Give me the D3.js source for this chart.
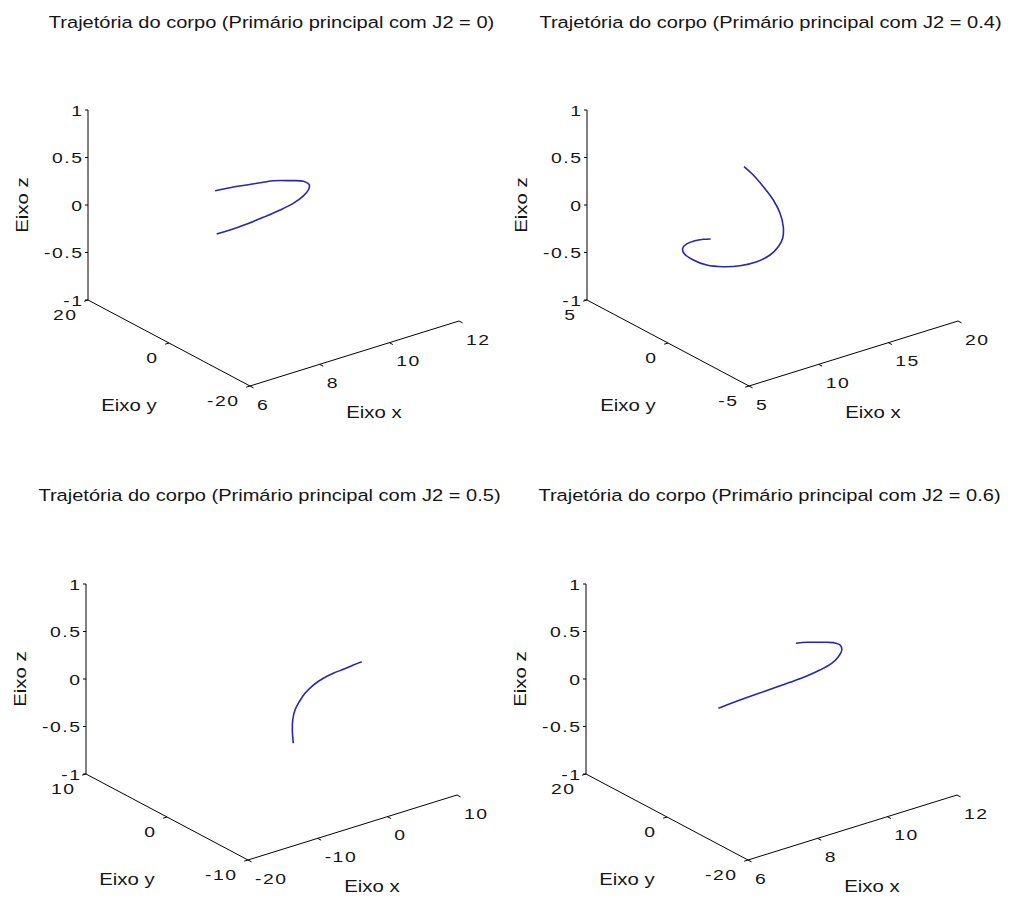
<!DOCTYPE html>
<html><head><meta charset="utf-8">
<script src="https://cdn.jsdelivr.net/npm/d3@7"></script>
<style>
body{margin:0;background:#fff}
svg{display:block;background:#fff}
text{font-family:"Liberation Sans",Arial,Helvetica,sans-serif;fill:#151515}
</style>
</head><body>
<svg id="chart" width="1012" height="898"></svg>
<script>
// ---------- data ----------
const titles = [
  "Trajetória do corpo (Primário principal com J2 = 0)",
  "Trajetória do corpo (Primário principal com J2 = 0.4)",
  "Trajetória do corpo (Primário principal com J2 = 0.5)",
  "Trajetória do corpo (Primário principal com J2 = 0.6)"
];
const xLabel = "Eixo x", yLabel = "Eixo y", zLabel = "Eixo z";

const xDomains = [[6, 12], [5, 20], [-20, 10], [6, 12]];
const yDomains = [[-20, 20], [-5, 5], [-10, 10], [-20, 20]];
const zDomain = [-1, 1];

const xTicks = [[6, 8, 10, 12], [5, 10, 15, 20], [-20, -10, 0, 10], [6, 8, 10, 12]];
const yTicks = [[-20, 0, 20], [-5, 0, 5], [-10, 0, 10], [-20, 0, 20]];
const zTicks = [-1, -0.5, 0, 0.5, 1];

// planar trajectories (z = 0)
const trajX_J2_0   = [8.79, 9.16, 9.56, 9.95, 10.18, 10.49, 10.71, 10.69, 10.50, 10.20, 9.77, 9.31, 8.75, 8.23, 7.72, 7.34];
const trajY_J2_0   = [12.61, 12.12, 11.39, 10.67, 10.22, 8.70, 7.31, 5.68, 4.30, 3.00, 1.77, 1.02, 0.40, -0.05, -0.28, -0.24];
const trajX_J2_04  = [15.37, 15.08, 14.54, 13.86, 13.03, 12.03, 11.02, 10.10, 9.02, 7.85, 6.75, 5.91, 5.30, 5.12, 5.27, 5.64, 6.19, 6.84, 7.34, 7.70];
const trajY_J2_04  = [4.23, 3.41, 2.32, 1.12, -0.01, -1.07, -1.90, -2.42, -2.84, -3.03, -2.94, -2.63, -2.13, -1.46, -0.75, -0.36, -0.13, -0.08, -0.17, -0.31];
const trajX_J2_05  = [7.90, 6.58, 4.94, 3.36, 1.60, -0.45, -2.62, -4.57, -6.37, -8.28, -10.02, -12.20];
const trajY_J2_05  = [-0.04, -0.14, -0.31, -0.44, -0.72, -1.25, -2.09, -3.06, -4.08, -5.44, -6.89, -8.88];
const trajX_J2_06  = [11.02, 11.25, 11.49, 11.72, 11.76, 11.62, 11.33, 10.98, 10.54, 10.10, 9.58, 9.07, 8.58, 8.07, 7.66, 7.40];
const trajY_J2_06  = [11.32, 10.63, 9.42, 8.09, 6.80, 5.18, 3.53, 2.19, 1.30, 0.75, 0.42, 0.19, 0.03, -0.21, -0.46, -0.66];
const trajZ = 0;

const trajX = [trajX_J2_0, trajX_J2_04, trajX_J2_05, trajX_J2_06];
const trajY = [trajY_J2_0, trajY_J2_04, trajY_J2_05, trajY_J2_06];

// ---------- layout ----------
const VX = [209, -65], VY = [-162, -86], VZ = [0, -190];
const corners = [[250, 386], [749, 386], [248, 860], [748, 860]];
const titleY = [28, 28, 501, 501];
const lineColor = "#2626b0";

const svg = d3.select("#chart");
svg.append("rect").attr("width", 1012).attr("height", 898).attr("fill", "#fff");

function label(g, x, y, s, opts) {
  const o = Object.assign({anchor: "start", size: 15, scale: 1.25, rotate: 0, spacing: 0}, opts || {});
  g.append("text")
    .attr("transform", `translate(${x},${y}) rotate(${o.rotate}) scale(${o.scale},1)`)
    .attr("text-anchor", o.anchor)
    .attr("font-size", o.size)
    .attr("letter-spacing", o.spacing)
    .text(s);
}

const lenVX = Math.hypot(VX[0], VX[1]), lenVY = Math.hypot(VY[0], VY[1]);
const ux = [VX[0] / lenVX, VX[1] / lenVX], uy = [VY[0] / lenVY, VY[1] / lenVY];

titles.forEach((title, i) => {
  const [cx, cy] = corners[i];
  const g = svg.append("g");
  const sx = d3.scaleLinear().domain(xDomains[i]).range([0, 1]);
  const sy = d3.scaleLinear().domain(yDomains[i]).range([0, 1]);
  const sz = d3.scaleLinear().domain(zDomain).range([0, 1]);
  const proj = (x, y, z) => [
    cx + sx(x) * VX[0] + sy(y) * VY[0] + sz(z) * VZ[0],
    cy + sx(x) * VX[1] + sy(y) * VY[1] + sz(z) * VZ[1]
  ];
  const [x0, x1] = xDomains[i], [y0, y1] = yDomains[i], [z0, z1] = zDomain;

  const seg = (a, b) => g.append("line")
    .attr("x1", a[0]).attr("y1", a[1]).attr("x2", b[0]).attr("y2", b[1])
    .attr("stroke", "#000").attr("stroke-width", 1);

  // axes lines
  seg(proj(x0, y0, z0), proj(x1, y0, z0));
  seg(proj(x0, y0, z0), proj(x0, y1, z0));
  seg(proj(x0, y1, z0), proj(x0, y1, z1));

  const tickOpts = {size: 15.5, scale: 1.25, spacing: 1.2};
  // z ticks
  zTicks.forEach(t => {
    const p = proj(x0, y1, t);
    seg([p[0] - 3, p[1]], p);
    label(g, p[0] - 4.5, p[1] + 5.5, String(t), Object.assign({anchor: "end"}, tickOpts));
  });
  // y ticks
  yTicks[i].forEach(t => {
    const p = proj(x0, t, z0);
    seg(p, [p[0] - ux[0] * 4, p[1] - ux[1] * 4]);
    label(g, p[0] - 10.5, p[1] + 20, String(t), Object.assign({anchor: "end"}, tickOpts));
  });
  // x ticks
  xTicks[i].forEach(t => {
    const p = proj(t, y0, z0);
    seg(p, [p[0] - uy[0] * 4, p[1] - uy[1] * 4]);
    label(g, p[0] + 7, p[1] + 23.5, String(t), Object.assign({anchor: "start"}, tickOpts));
  });

  // axis labels
  const corner = proj(x0, y0, z0);
  label(g, corner[0] + 124, corner[1] + 32, xLabel, {anchor: "middle", size: 17, scale: 1.2});
  label(g, corner[0] - 121, corner[1] + 25, yLabel, {anchor: "middle", size: 17, scale: 1.2});
  const zmid = proj(x0, y1, 0);
  label(g, zmid[0] - 60, zmid[1], zLabel, {anchor: "middle", size: 17, scale: 1.2, rotate: -90});

  // title
  const zTop = proj(x0, y1, z1);
  label(g, zTop[0] + 183.5, titleY[i], title, {anchor: "middle", size: 17, scale: 1.18});

  // trajectory
  const pts = trajX[i].map((x, k) => proj(x, trajY[i][k], trajZ));
  g.append("path")
    .attr("d", d3.line().curve(d3.curveCatmullRom.alpha(0.5))(pts))
    .attr("fill", "none").attr("stroke", lineColor).attr("stroke-width", 1.6);
});
</script>
</body></html>
